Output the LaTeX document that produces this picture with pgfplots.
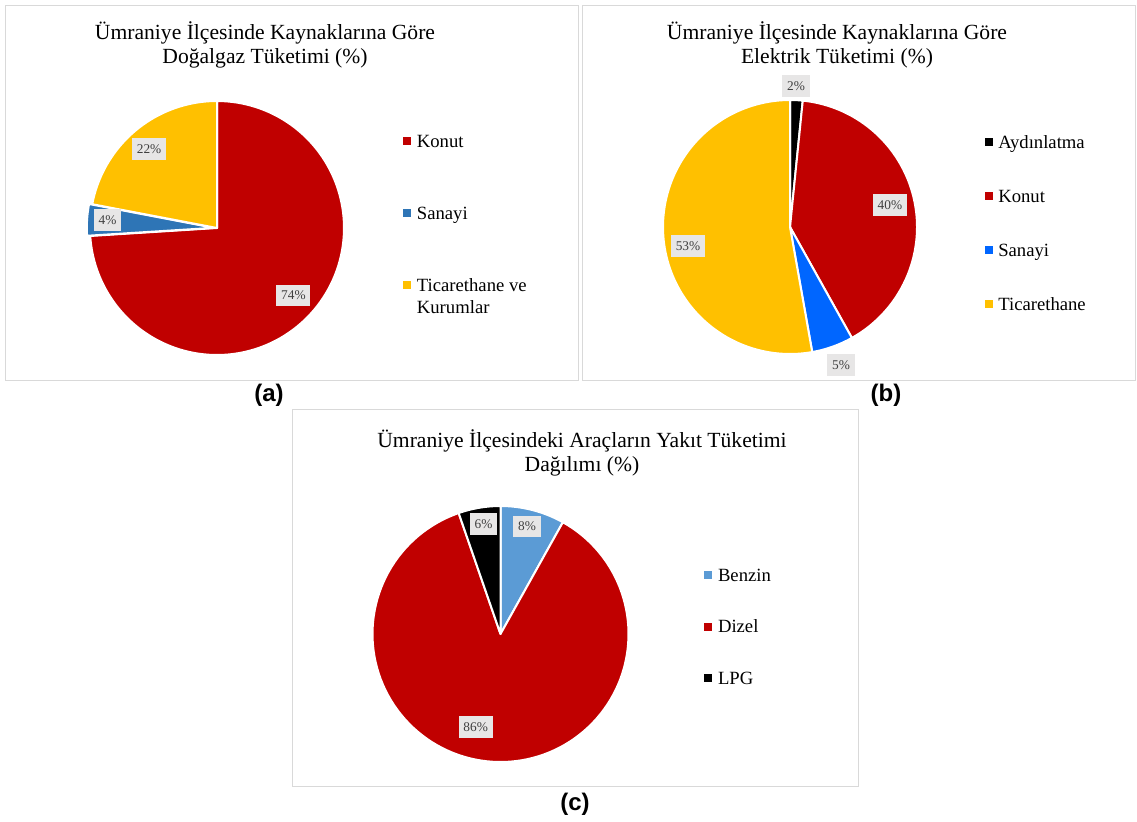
\documentclass[border=0pt]{standalone}
\usepackage{fontspec}
\setmainfont{Liberation Serif}
\setsansfont{Liberation Sans}
\usepackage{pgfplots}
\pgfplotsset{compat=1.18}
\definecolor{cRed}{HTML}{C00000}
\definecolor{cBlueA}{HTML}{2E75B6}
\definecolor{cYel}{HTML}{FFC000}
\definecolor{cBlueB}{HTML}{0066FF}
\definecolor{cBlueC}{HTML}{5B9BD5}
\definecolor{cBox}{HTML}{D9D9D9}
\definecolor{cLab}{HTML}{E7E6E6}
\definecolor{cLabT}{HTML}{404040}
\newcommand\titlefont{\fontsize{16.2}{18}\selectfont}
\newcommand\legfont{\fontsize{14}{16.5}\selectfont}
\newcommand\lgt[1]{\raisebox{0pt}[11pt][3pt]{\begin{tabular}[t]{@{}l@{}}#1\end{tabular}}}
\newcommand\piestart{\gdef\cum{0}}
% \slice[explode]{value in %}{colour}
\newcommand\slice[3][0]{%
  \pgfmathsetmacro\sa{90-3.6*(\cum+#2)}%
  \pgfmathsetmacro\sb{90-3.6*\cum}%
  \pgfmathsetmacro\sm{90-3.6*(\cum+0.5*#2)}%
  \pgfmathsetmacro\dx{#1*cos(\sm)}%
  \pgfmathsetmacro\dy{#1*sin(\sm)}%
  \pgfmathsetmacro\newcum{\cum+#2}%
  \xdef\cum{\newcum}%
  \edef\doslice{\noexpand\addplot[fill=#3, draw=white, line width=1.5pt, line join=round,
    domain=\sa:\sb, samples=120, variable=\noexpand\t]
    ({\dx+cos(\noexpand\t)},{\dy+sin(\noexpand\t)}) -- (axis cs:\dx,\dy) -- cycle;}%
  \doslice
}
\pgfplotsset{
  pie/.style={anchor=center, scale only axis, xmin=-1, xmax=1, ymin=-1, ymax=1,
    hide axis, clip=false,
    legend image code/.code={\fill[##1, draw=none] (0pt,-3pt) rectangle (6pt,3pt);},
    legend style={draw=none, fill=none, inner sep=0pt, anchor=north west,
      font=\legfont, nodes={inner sep=0pt}, column sep=4.3pt, cells={anchor=west}}}
}
\tikzset{
  lab/.style={fill=cLab, text=cLabT, font=\fontsize{10}{12}\selectfont,
    inner xsep=3.6pt, inner ysep=4.6pt, text height=6.9pt, text depth=0.2pt}
}
\begin{document}
\begin{tikzpicture}
\begin{scope}[x=0.75pt, y=-0.75pt]
  \path[use as bounding box] (0,0) rectangle (1137,821);
  \draw[cBox, line width=0.75pt] (5,5) rectangle (578,380);
  \draw[cBox, line width=0.75pt] (582,5) rectangle (1135,380);
  \draw[cBox, line width=0.75pt] (292,409) rectangle (858,786);
  \node[align=center, font=\titlefont] at (265,44.5) {Ümraniye İlçesinde Kaynaklarına Göre\\Doğalgaz Tüketimi (\%)};
  \node[align=center, font=\titlefont] at (837,44.5) {Ümraniye İlçesinde Kaynaklarına Göre\\Elektrik Tüketimi (\%)};
  \node[align=center, font=\titlefont] at (582,452.5) {Ümraniye İlçesindeki Araçların Yakıt Tüketimi\\Dağılımı (\%)};
  \node[font=\sffamily\bfseries\fontsize{18}{20}\selectfont] at (269,395) {(a)};
  \node[font=\sffamily\bfseries\fontsize{18}{20}\selectfont] at (886,395) {(b)};
  \node[font=\sffamily\bfseries\fontsize{18}{20}\selectfont] at (575,804) {(c)};
\end{scope}

% (a) Dogalgaz
\begin{axis}[pie, at={(162.75pt,-171pt)}, width=190.5pt, height=190.5pt,
  legend style={at={(1.232,0.875)}, row sep=41.5pt}]
  \piestart
  \slice{74}{cRed}\addlegendentry{\lgt{Konut}}
  \slice[0.025]{4}{cBlueA}\addlegendentry{\lgt{Sanayi}}
  \slice{22}{cYel}\addlegendentry{\lgt{Ticarethane ve\\Kurumlar}}
  \node[lab] at (axis cs:-0.535,0.622) {22\%};
  \node[lab] at (axis cs:-0.862,0.063) {4\%};
  \node[lab] at (axis cs:0.602,-0.531) {74\%};
\end{axis}

% (b) Elektrik
\begin{axis}[pie, at={(592.5pt,-170.25pt)}, width=190.5pt, height=190.5pt,
  legend style={at={(1.265,0.867)}, row sep=28pt}]
  \piestart
  \slice{1.6}{black}\addlegendentry{\lgt{Aydınlatma}}
  \slice{40.3}{cRed}\addlegendentry{\lgt{Konut}}
  \slice{5.3}{cBlueB}\addlegendentry{\lgt{Sanayi}}
  \slice{52.8}{cYel}\addlegendentry{\lgt{Ticarethane}}
  \node[lab] at (axis cs:0.047,1.110) {2\%};
  \node[lab] at (axis cs:0.787,0.173) {40\%};
  \node[lab] at (axis cs:-0.803,-0.150) {53\%};
  \node[lab] at (axis cs:0.402,-1.087) {5\%};
\end{axis}

% (c) Arac yakit
\begin{axis}[pie, at={(375.375pt,-475.5pt)}, width=192pt, height=192pt,
  legend style={at={(1.295,0.763)}, row sep=26pt}]
  \piestart
  \slice{8.1}{cBlueC}\addlegendentry{\lgt{Benzin}}
  \slice{86.6}{cRed}\addlegendentry{\lgt{Dizel}}
  \slice{5.3}{black}\addlegendentry{\lgt{LPG}}
  \node[lab] at (axis cs:-0.133,0.859) {6\%};
  \node[lab] at (axis cs:0.207,0.840) {8\%};
  \node[lab] at (axis cs:-0.194,-0.727) {86\%};
\end{axis}
\end{tikzpicture}
\end{document}
